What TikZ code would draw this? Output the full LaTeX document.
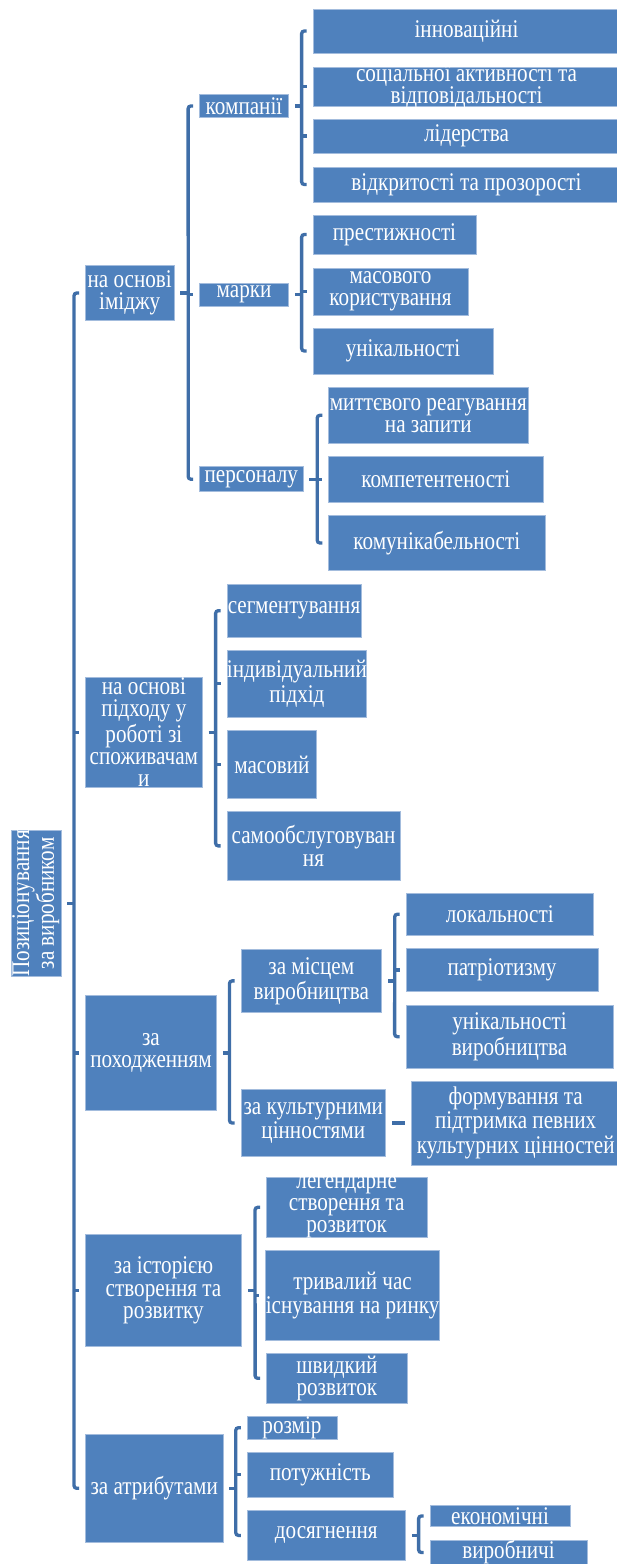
\documentclass[tikz,border=0pt]{standalone}
\usepackage{fontspec}
\setmainfont[FakeStretch=0.83]{Liberation Serif}
\usetikzlibrary{calc}
\definecolor{boxblue}{HTML}{4F81BD}
\definecolor{braceblue}{HTML}{3F6EA8}
\definecolor{edgeblue}{HTML}{A3BCDD}
\tikzset{
  every picture/.style={x=0.02cm, y=-0.02cm},
  box/.style={fill=boxblue, draw=edgeblue, line width=0.4pt, text=white, align=center,
    inner sep=0pt, font=\fontsize{14.5}{12.6}\selectfont},
  sz/.style 2 args={minimum width=#1*0.02cm, minimum height=#2*0.02cm},
  brace/.style={draw=braceblue, line width=1.9pt, rounded corners=1.5pt},
}
% bracket: parent, first child, last child
\newcommand{\brackto}[3]{%
  \draw[brace] ($(#2.west)+(-6,0)$) -- ($(#2.west)+(-11,0)$) -- ($(#3.west)+(-11,0)$) -- ($(#3.west)+(-6,0)$);
  \draw[brace] ($(#1.east)+(6,0)$) -- ($(#1.east -| #2.west)+(-11,0)$);}

\begin{document}
\begin{tikzpicture}
  \useasboundingbox (0,0) rectangle (617,1564);
  % root
  \node[box, sz={49.3}{146.7}] (root) at (36.4,903.4)
    {\rotatebox{90}{\begin{tabular}{@{}c@{}}Позиціонування\\за виробником\end{tabular}}};
  % image
  \node[box, sz={88.6}{55.4}] (imidzh) at (129.7,293) {на основі\\іміджу};
  \node[box, sz={89}{23}] (komp) at (244,106) {компанії};
  \node[box, sz={307}{44}] (inn) at (466.5,31) {інноваційні};
  \node[box, sz={307}{39}, inner ysep=-2pt] (soc) at (466.5,86.5) {соціальної активності та\\відповідальності};
  \node[box, sz={307}{34}] (lid) at (466.5,136) {лідерства};
  \node[box, sz={307}{35}] (vidk) at (466.5,184.5) {відкритості та прозорості};
  \node[box, sz={89}{23}] (marky) at (244,294.5) {марки};
  \node[box, sz={163}{39}] (prest) at (394.5,234.5) {престижності};
  \node[box, sz={155}{47}] (masc) at (390.5,291.5) {масового\\користування};
  \node[box, sz={180}{46}] (unik) at (403,351) {унікальності};
  \node[box, sz={103.5}{25}] (pers) at (251.3,479.2) {персоналу};
  \node[box, sz={199.4}{56}] (mytt) at (428.3,415.3) {миттєвого реагування\\на запити};
  \node[box, sz={214.4}{45.6}] (kompet) at (435.8,479.5) {компетентеності};
  \node[box, sz={216.4}{55.4}] (komun) at (436.8,543) {комунікабельності};
  % approach
  \node[box, sz={116.9}{110}, inner ysep=-1pt] (pidkhid) at (143.9,732.3) {на основі\\підходу у\\роботі зі\\споживачам\\и};
  \node[box, sz={134}{53.3}] (segm) at (294,610.7) {сегментування};
  \node[box, sz={139.8}{67.3}] (indyv) at (296.9,683.7) {індивідуальний\\підхід};
  \node[box, sz={89.8}{67.6}] (masov) at (271.9,764.5) {масовий};
  \node[box, sz={173}{69.7}] (samo) at (313.5,845.9) {самообслуговуван\\ня};
  % origin
  \node[box, sz={131.1}{114.3}] (pokh) at (151,1052.9) {за\\походженням};
  \node[box, sz={140.9}{63.7}] (misc) at (311.3,980.9) {за місцем\\виробництва};
  \node[box, sz={187.5}{41.7}] (lok) at (499.8,914.2) {локальності};
  \node[box, sz={192}{43.4}] (patr) at (502,970) {патріотизму};
  \node[box, sz={207}{63.3}] (unvyr) at (509.5,1036.7) {унікальності\\виробництва};
  \node[box, sz={144.9}{67.4}] (kult) at (313.3,1123) {за культурними\\цінностями};
  \node[box, sz={208.7}{84}] (form) at (515.7,1123) {формування та\\підтримка певних\\культурних цінностей};
  % history
  \node[box, sz={156.2}{112.7}] (ist) at (163.5,1290.4) {за історією\\створення та\\розвитку};
  \node[box, sz={160.6}{60}, inner ysep=-4pt] (leg) at (346.7,1207.3) {легендарне\\створення та\\розвиток};
  \node[box, sz={172.4}{90.7}] (tryv) at (352.6,1295.4) {тривалий час\\існування на ринку};
  \node[box, sz={140.9}{50}] (shvyd) at (336.9,1378.3) {швидкий\\розвиток};
  % attributes
  \node[box, sz={137.6}{108}] (atryb) at (154.2,1488.3) {за атрибутами};
  \node[box, sz={89.8}{23.3}, inner ysep=-1pt] (rozm) at (292,1427.7) {розмір};
  \node[box, sz={146.4}{45}] (potuzh) at (320.3,1474.8) {потужність};
  \node[box, sz={158.3}{50.7}] (dosyag) at (326.3,1535.4) {досягнення};
  \node[box, sz={140}{21}, inner ysep=-1pt] (ekon) at (500,1516) {економічні};
  \node[box, sz={157}{24}, inner ysep=-1pt] (vyrob) at (508.5,1552.5) {виробничі};

  % brackets
  \brackto{root}{imidzh}{atryb}
  \foreach \c in {pidkhid,pokh,ist} \draw[brace] ($(\c.west)+(-11,0)$) -- ($(\c.west)+(-6,0)$);
  \brackto{imidzh}{komp}{pers}
  \draw[brace] ($(marky.west)+(-11,0)$) -- ($(marky.west)+(-6,0)$);
  \brackto{komp}{inn}{vidk}
  \foreach \c in {soc,lid} \draw[brace] ($(\c.west)+(-11,0)$) -- ($(\c.west)+(-6,0)$);
  \brackto{marky}{prest}{unik}
  \draw[brace] ($(masc.west)+(-11,0)$) -- ($(masc.west)+(-6,0)$);
  \brackto{pers}{mytt}{komun}
  \draw[brace] ($(kompet.west)+(-11,0)$) -- ($(kompet.west)+(-6,0)$);
  \brackto{pidkhid}{segm}{samo}
  \foreach \c in {indyv,masov} \draw[brace] ($(\c.west)+(-11,0)$) -- ($(\c.west)+(-6,0)$);
  \brackto{pokh}{misc}{kult}
  \brackto{misc}{lok}{unvyr}
  \draw[brace] ($(patr.west)+(-11,0)$) -- ($(patr.west)+(-6,0)$);
  \draw[brace] ($(kult.east)+(6,0)$) -- ($(form.west)+(-6,0)$);
  \brackto{ist}{leg}{shvyd}
  \draw[brace] ($(tryv.west)+(-11,0)$) -- ($(tryv.west)+(-6,0)$);
  \brackto{atryb}{rozm}{dosyag}
  \draw[brace] ($(potuzh.west)+(-11,0)$) -- ($(potuzh.west)+(-6,0)$);
  \brackto{dosyag}{ekon}{vyrob}
\end{tikzpicture}
\end{document}
